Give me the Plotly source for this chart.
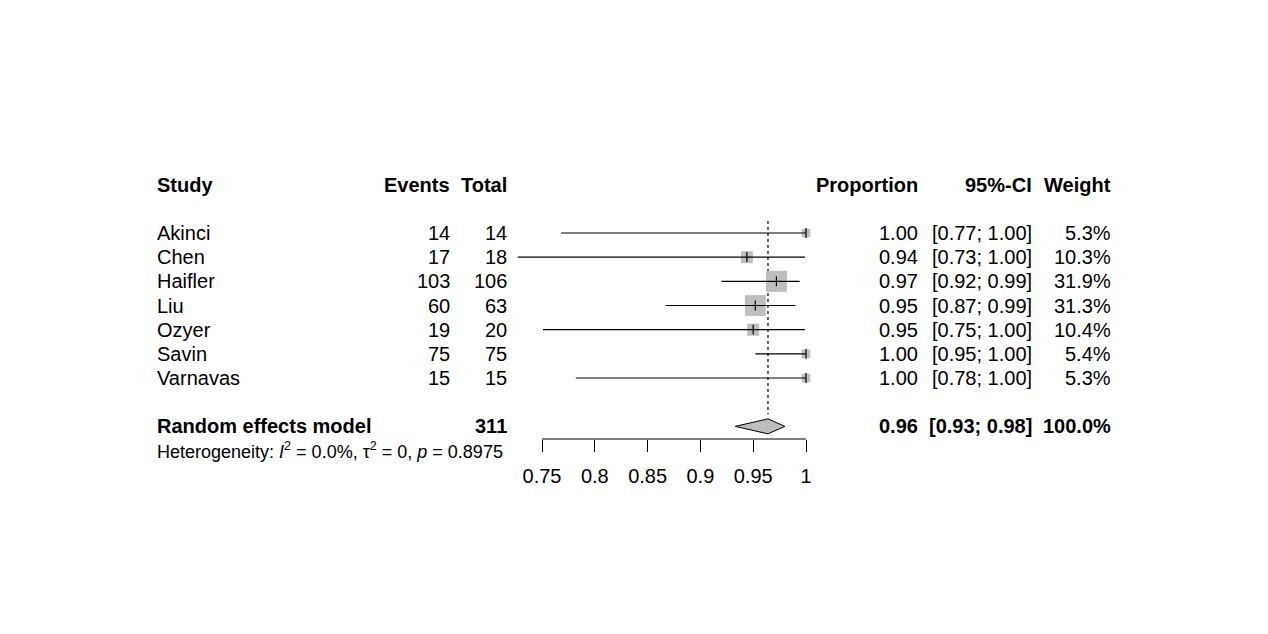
import plotly.graph_objects as go
import math

# ---- data ----
studies = ["Akinci", "Chen", "Haifler", "Liu", "Ozyer", "Savin", "Varnavas"]
events = [14, 17, 103, 60, 19, 75, 15]
totals = [14, 18, 106, 63, 20, 75, 15]
proportion = [1.00, 0.944, 0.972, 0.952, 0.950, 1.00, 1.00]
ci_low = [0.768, 0.727, 0.920, 0.867, 0.751, 0.952, 0.782]
ci_high = [1.00, 0.999, 0.994, 0.990, 0.999, 1.00, 1.00]
weights = [5.3, 10.3, 31.9, 31.3, 10.4, 5.4, 5.3]

pooled_label = "Random effects model"
pooled_total = 311
pooled_est = 0.964
pooled_low = 0.933
pooled_high = 0.980
pooled_weight = 100.0
het_text = "Heterogeneity: <i>I</i><sup>2</sup> = 0.0%, \u03c4<sup>2</sup> = 0, <i>p</i> = 0.8975"

tick_vals = [0.75, 0.80, 0.85, 0.90, 0.95, 1.00]
tick_text = ["0.75", "0.8", "0.85", "0.9", "0.95", "1"]

headers = ["Study", "Events", "Total", "Proportion", "95%-CI", "Weight"]

# ---- layout geometry ----
W, H = 1268, 634
OFF = 8  # page body offset
FONT = "Liberation Sans, Arial, sans-serif"
FS = 20
px_per_unit = 1056.0
x0_px = 542.0 - OFF
x_left = tick_vals[0] - x0_px / px_per_unit
x_right = tick_vals[0] + (W - x0_px) / px_per_unit

row_px = 24.17
row1_px = 233.0 - OFF
axis_px = 439.0 - OFF
y_top = 1 - row1_px / row_px
y_bot = 1 + (axis_px - row1_px) / row_px

study_rows = list(range(1, len(studies) + 1))
header_row = -1
pooled_row = len(studies) + 2
het_row = pooled_row + 1


def row_to_paper(r):
    return (y_bot - r) / (y_bot - y_top)


fig = go.Figure()

# reference dotted line at pooled estimate
fig.add_trace(go.Scatter(
    x=[pooled_est, pooled_est], y=[study_rows[0] - 0.5, pooled_row - 0.5],
    mode="lines", line=dict(color="black", width=1.2, dash="dot"),
    hoverinfo="skip", showlegend=False))

# squares sized by weight
fig.add_trace(go.Scatter(
    x=proportion, y=study_rows, mode="markers",
    marker=dict(symbol="square", color="#BEBEBE", opacity=1,
                size=[3.72 * math.sqrt(w) for w in weights],
                line=dict(width=0)),
    hoverinfo="skip", showlegend=False))

# CI lines
cx, cy = [], []
for lo, hi, r in zip(ci_low, ci_high, study_rows):
    cx += [lo, hi, None]
    cy += [r, r, None]
fig.add_trace(go.Scatter(x=cx, y=cy, mode="lines",
                         line=dict(color="black", width=1.2),
                         hoverinfo="skip", showlegend=False))

# estimate ticks
fig.add_trace(go.Scatter(
    x=proportion, y=study_rows, mode="markers",
    marker=dict(symbol="line-ns", size=7, color="black", opacity=1,
                line=dict(color="black", width=1.2)),
    hoverinfo="skip", showlegend=False))

# diamond
dh = 0.31
fig.add_trace(go.Scatter(
    x=[pooled_low, pooled_est, pooled_high, pooled_est, pooled_low],
    y=[pooled_row, pooled_row - dh, pooled_row, pooled_row + dh, pooled_row],
    mode="lines", fill="toself", fillcolor="#BEBEBE",
    line=dict(color="black", width=1),
    hoverinfo="skip", showlegend=False))

# axis line
fig.add_shape(type="line", xref="x", yref="paper",
              x0=tick_vals[0], x1=tick_vals[-1], y0=0, y1=0,
              line=dict(color="black", width=1.2))

# ---- text columns ----
col_study = (155 - OFF) / W
col_events = (452 - OFF) / W
col_total = (509 - OFF) / W
col_prop = (920 - OFF) / W
col_ci = (1034 - OFF) / W
col_weight = (1113 - OFF) / W


def txt(x, r, s, anchor, bold=False, size=FS):
    fig.add_annotation(x=x, y=row_to_paper(r), xref="paper", yref="paper",
                       text=s, showarrow=False, xanchor=anchor,
                       yanchor="middle",
                       font=dict(family=FONT, size=size, color="black",
                                 weight="bold" if bold else "normal"))


hx = [col_study, col_events, col_total, col_prop, col_ci, col_weight]
ha = ["left", "right", "right", "right", "right", "right"]
for s, x, a in zip(headers, hx, ha):
    txt(x, header_row, s, a, bold=True)

for i, r in enumerate(study_rows):
    txt(col_study, r, studies[i], "left")
    txt(col_events, r, str(events[i]), "right")
    txt(col_total, r, str(totals[i]), "right")
    txt(col_prop, r, f"{proportion[i]:.2f}", "right")
    txt(col_ci, r, f"[{ci_low[i]:.2f}; {ci_high[i]:.2f}]", "right")
    txt(col_weight, r, f"{weights[i]:.1f}%", "right")

txt(col_study, pooled_row, pooled_label, "left", bold=True)
txt(col_total, pooled_row, str(pooled_total), "right", bold=True)
txt(col_prop, pooled_row, f"{pooled_est:.2f}", "right", bold=True)
txt(col_ci, pooled_row, f"[{pooled_low:.2f}; {pooled_high:.2f}]", "right", bold=True)
txt(col_weight, pooled_row, f"{pooled_weight:.1f}%", "right", bold=True)
txt(col_study, het_row, het_text, "left", size=18)

fig.update_layout(
    width=W, height=H,
    margin=dict(l=0, r=0, t=0, b=H - axis_px, pad=0),
    paper_bgcolor="white", plot_bgcolor="white",
    showlegend=False,
    xaxis=dict(range=[x_left, x_right], showgrid=False, zeroline=False,
               showline=False, tickmode="array", tickvals=tick_vals,
               ticktext=tick_text, ticks="outside", ticklen=12,
               tickwidth=1, tickcolor="black", ticklabelstandoff=7,
               tickfont=dict(family=FONT, size=FS, color="black"),
               fixedrange=True),
    yaxis=dict(range=[y_bot, y_top], visible=False, fixedrange=True),
)

fig.write_html("out.html")
